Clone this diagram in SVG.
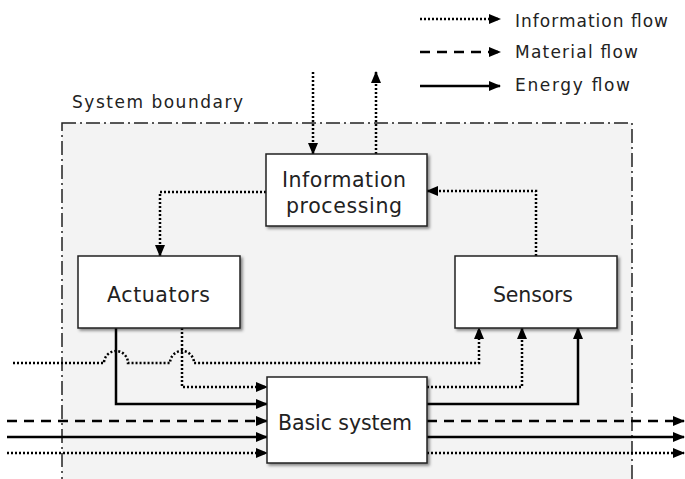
<svg xmlns="http://www.w3.org/2000/svg" width="685" height="479" viewBox="0 0 685 479">
<style>
.t{font-family:"DejaVu Sans","Liberation Sans",sans-serif;fill:#222}
.n{font-size:20.5px}
.l{font-size:17px}
.box{fill:#fff;stroke:#222;stroke-width:1.5;filter:url(#sh)}
.info{fill:none;stroke:#000;stroke-width:2.5;stroke-dasharray:2 2}
.mat{fill:none;stroke:#000;stroke-width:2.5;stroke-dasharray:10 7}
.en{fill:none;stroke:#000;stroke-width:2.5}
</style>
<defs>
<filter id="sh" x="-10%" y="-10%" width="130%" height="130%">
<feDropShadow dx="2" dy="2" stdDeviation="1.5" flood-color="#000" flood-opacity="0.45"/>
</filter>
<marker id="ah" markerWidth="12" markerHeight="10" refX="11" refY="5" orient="auto" markerUnits="userSpaceOnUse">
<path d="M0,0 L12,5 L0,10 Z" fill="#000"/>
</marker>
</defs>
<rect x="62" y="123" width="570" height="370" fill="#f3f3f3" stroke="#222" stroke-width="1.5" stroke-dasharray="14 4 2 4"/>
<text class="t l" x="72" y="108" textLength="171" lengthAdjust="spacing">System boundary</text>
<g id="legend">
<line class="info" x1="420" y1="19" x2="500" y2="19" marker-end="url(#ah)"/>
<line class="mat" x1="420" y1="52" x2="500" y2="52" marker-end="url(#ah)"/>
<line class="en" x1="420" y1="86" x2="500" y2="86" marker-end="url(#ah)"/>
<text class="t l" x="515" y="27" textLength="153" lengthAdjust="spacing">Information flow</text>
<text class="t l" x="515" y="58" textLength="123" lengthAdjust="spacing">Material flow</text>
<text class="t l" x="515" y="91" textLength="115" lengthAdjust="spacing">Energy flow</text>
</g>
<g id="connectors">
<path class="info" d="M313,72 V154" marker-end="url(#ah)"/>
<path class="info" d="M376,154 V72" marker-end="url(#ah)"/>
<path class="info" d="M266,192 H160 V256" marker-end="url(#ah)"/>
<path class="info" d="M536,256 V191 H427" marker-end="url(#ah)"/>
<path class="en" d="M116,328 V404 H267" marker-end="url(#ah)"/>
<path class="info" d="M182,328 V387 H267" marker-end="url(#ah)"/>
<path class="info" d="M13,363 H104 A12,12 0 0 1 128,363 H170 A12,12 0 0 1 194,363 H479 V328" marker-end="url(#ah)"/>
<path class="info" d="M427,387 H522 V328" marker-end="url(#ah)"/>
<path class="en" d="M427,404 H578 V328" marker-end="url(#ah)"/>
<path class="mat" d="M7,421 H267" marker-end="url(#ah)"/>
<path class="en" d="M7,437 H267" marker-end="url(#ah)"/>
<path class="info" d="M7,453 H267" marker-end="url(#ah)"/>
<path class="mat" d="M427,421 H684" marker-end="url(#ah)"/>
<path class="en" d="M427,437 H684" marker-end="url(#ah)"/>
<path class="info" d="M427,453 H684" marker-end="url(#ah)"/>
</g>
<g id="info-processing">
<rect class="box" x="266" y="154" width="161" height="72"/>
<text class="t n" x="282" y="187" textLength="124" lengthAdjust="spacing">Information</text>
<text class="t n" x="286" y="213" textLength="116" lengthAdjust="spacing">processing</text>
</g>
<g id="actuators">
<rect class="box" x="78" y="256" width="162" height="72"/>
<text class="t n" x="107" y="302" textLength="103" lengthAdjust="spacing">Actuators</text>
</g>
<g id="sensors">
<rect class="box" x="455" y="256" width="162" height="72"/>
<text class="t n" x="493" y="302" textLength="80" lengthAdjust="spacing">Sensors</text>
</g>
<g id="basic-system">
<rect class="box" x="267" y="377" width="160" height="86"/>
<text class="t n" x="278" y="430" textLength="134" lengthAdjust="spacing">Basic system</text>
</g>
</svg>
